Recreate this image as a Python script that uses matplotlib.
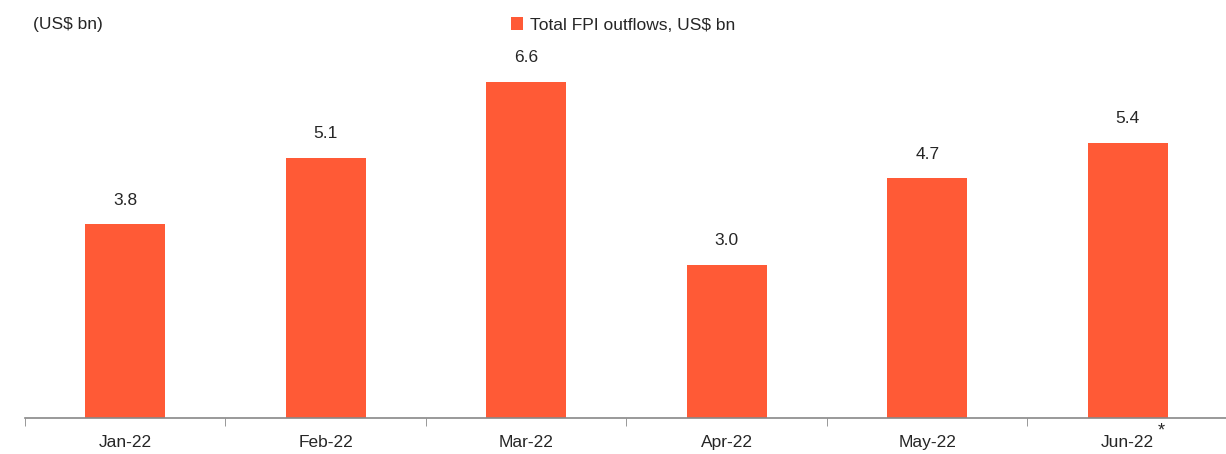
import matplotlib
matplotlib.use("Agg")
import matplotlib.pyplot as plt

months = ["Jan-22", "Feb-22", "Mar-22", "Apr-22", "May-22", "Jun-22"]
outflows = [3.8, 5.1, 6.6, 3.0, 4.7, 5.4]

BAR = "#FF5A36"
TXT = "#262626"

plt.rcParams["font.family"] = ["Liberation Sans", "DejaVu Sans"]

fig = plt.figure(figsize=(12.26, 4.54), dpi=100)
ax = fig.add_axes([25 / 1226, 36 / 454, 1203 / 1226, 418 / 454])

x = list(range(len(months)))
bars = ax.bar(x, outflows, width=0.4, color=BAR, label="Total FPI outflows, US$ bn")
for xi, v in zip(x, outflows):
    ax.annotate(f"{v:.1f}", (xi, v), textcoords="offset points", xytext=(0, 12),
                ha="center", va="bottom", fontsize=12.5, color=TXT)

ax.set_xlim(-0.5, len(months) - 0.5)
ax.set_ylim(0, 8.2)
ax.set_yticks([])
ax.set_xticks(x)
ax.set_xticklabels(months, fontsize=12.5, color=TXT)
ax.set_xticks([i - 0.5 for i in range(len(months) + 1)], minor=True)
ax.tick_params(axis="x", which="major", length=0, pad=12)
ax.tick_params(axis="x", which="minor", length=6, color="#888888", direction="out")
for s in ["top", "right", "left"]:
    ax.spines[s].set_visible(False)
ax.spines["bottom"].set_color("#888888")
ax.spines["bottom"].set_linewidth(1.2)

# asterisk on the last month
ax.annotate("*", (len(months) - 1, 0), xycoords=("data", "data"),
            textcoords="offset points", xytext=(24, -9), ha="center", va="center",
            fontsize=13, color=TXT, annotation_clip=False)

fig.text(33 / 1226, 1 - 25 / 454, "(US$ bn)", fontsize=12.5, color=TXT,
         ha="left", va="center")
fig.legend(handles=[bars], loc="center", bbox_to_anchor=(623 / 1226, 1 - 25 / 454),
           frameon=False, fontsize=12.5, handlelength=0.7, handleheight=0.7,
           handletextpad=0.4, labelcolor=TXT)

fig.savefig("out.png", dpi=100, facecolor="white")
